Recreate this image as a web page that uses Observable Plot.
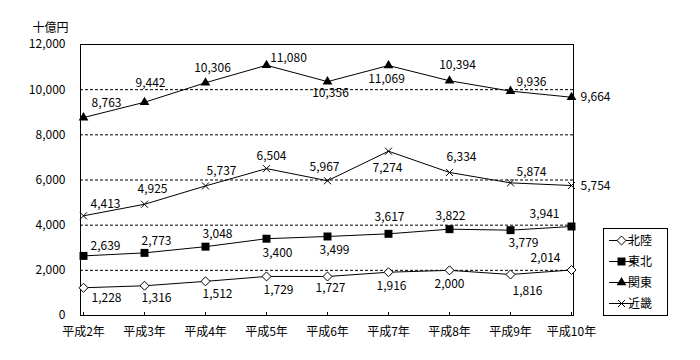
<!DOCTYPE html>
<html><head><meta charset="utf-8">
<script src="https://cdn.jsdelivr.net/npm/d3@7"></script>
<script src="https://cdn.jsdelivr.net/npm/@observablehq/plot@0.6"></script>
<style>
body{margin:0;background:#fff;}
#chart{position:relative;width:700px;height:360px;}
</style></head><body><div id="chart"></div>
<script>
// ---- data ----
const years = ["平成2年","平成3年","平成4年","平成5年","平成6年","平成7年","平成8年","平成9年","平成10年"];
const hokuriku = [1228, 1316, 1512, 1729, 1727, 1916, 2000, 1816, 2014];
const tohoku   = [2639, 2773, 3048, 3400, 3499, 3617, 3822, 3779, 3941];
const kanto    = [8763, 9442, 10306, 11080, 10356, 11069, 10394, 9936, 9664];
const kinki    = [4413, 4925, 5737, 6504, 5967, 7274, 6334, 5874, 5754];
const seriesNames = ["北陸", "東北", "関東", "近畿"];
const yTicks = [0, 2000, 4000, 6000, 8000, 10000, 12000];
const unitLabel = "十億円";

// ---- label placement (pixel offsets of each value label from its point) ----
const labelOffsets = {
  "北陸": [[23,10],[12,12],[12,13],[12,14],[3,12],[3,14],[0,14],[17,17],[-26,-12]],
  "東北": [[22,-10],[12,-12],[12,-13],[11,14],[7,14],[1,-17],[1,-13],[13,13],[-27,-12]],
  "関東": [[23,-14],[6,-19],[7,-15],[22,-7],[3,12],[-2,14],[8,-16],[21,-9],[24,0]],
  "近畿": [[22,-12],[8,-15],[16,-15],[5,-12],[-3,-14],[-1,17],[12,-15],[21,-11],[24,1]]
};

const valuesBySeries = {"北陸": hokuriku, "東北": tohoku, "関東": kanto, "近畿": kinki};
const rows = seriesNames.flatMap(s => valuesBySeries[s].map((v, i) => ({series: s, year: years[i], value: v, i})));

const diamond = {draw(ctx, size) { const r = Math.sqrt(size / 2); ctx.moveTo(0, -r); ctx.lineTo(r, 0); ctx.lineTo(0, r); ctx.lineTo(-r, 0); ctx.closePath(); }};
const symStyle = {
  "北陸": {symbol: diamond, r: 3.6, fill: "white", stroke: "black", strokeWidth: 1},
  "東北": {symbol: "square", r: 4.5, fill: "black", stroke: "none"},
  "関東": {symbol: "triangle", r: 3.6, fill: "black", stroke: "none"},
  "近畿": {symbol: "times", r: 3.3, fill: "none", stroke: "black", strokeWidth: 1}
};

const fmt = d3.format(",");
const marks = [];
marks.push(Plot.ruleY(yTicks.filter(t => t > 0 && t < 12000), {stroke: "black", strokeDasharray: "3,2"}));
marks.push(Plot.frame({stroke: "black"}));
marks.push(Plot.axisY({ticks: yTicks, tickFormat: fmt, tickSize: 0, tickPadding: 15, label: null}));
marks.push(Plot.axisX({tickSize: -3, tickPadding: 15, label: null}));
for (const s of seriesNames) {
  const d = rows.filter(r => r.series === s);
  marks.push(Plot.line(d, {x: "year", y: "value", stroke: "black", strokeWidth: 1}));
}
for (const s of seriesNames) {
  const d = rows.filter(r => r.series === s);
  marks.push(Plot.dot(d, {x: "year", y: "value", ...symStyle[s]}));
}
for (const r of rows) {
  const [dx, dy] = labelOffsets[r.series][r.i];
  marks.push(Plot.text([r], {x: "year", y: "value", text: d => fmt(d.value), dx, dy, fill: "black", textAnchor: "middle"}));
}
marks.push(Plot.text([unitLabel], {frameAnchor: "top-left", dx: -30, dy: -21, textAnchor: "middle", fill: "black"}));

const chart = Plot.plot({
  width: 700, height: 360,
  marginLeft: 80, marginRight: 127, marginTop: 44, marginBottom: 45,
  style: {fontFamily: '"Noto Sans CJK JP", sans-serif', fontSize: "12px", background: "white", color: "black"},
  x: {type: "point", domain: years, padding: 0, axis: null},
  y: {domain: [0, 12000], axis: null},
  marks
});

// legend
const svg = d3.select(chart);
const lg = svg.append("g").attr("font-family", '"Noto Sans CJK JP", sans-serif').attr("font-size", 12);
lg.append("rect").attr("x", 603.5).attr("y", 228.5).attr("width", 64).attr("height", 87).attr("fill", "white").attr("stroke", "black");
const legendSym = {
  "北陸": {path: (() => { const p = d3.path(); diamond.draw(p, Math.PI * 3.6 * 3.6); return p.toString(); })(), fill: "white", stroke: "black"},
  "東北": {path: d3.symbol(d3.symbolSquare, Math.PI * 4.5 * 4.5)(), fill: "black", stroke: "none"},
  "関東": {path: d3.symbol(d3.symbolTriangle, Math.PI * 3.6 * 3.6)(), fill: "black", stroke: "none"},
  "近畿": {path: d3.symbol(d3.symbolTimes, Math.PI * 3.3 * 3.3)(), fill: "none", stroke: "black"}
};
seriesNames.forEach((s, k) => {
  const y = 240.5 + k * 21;
  const g = lg.append("g");
  g.append("line").attr("x1", 609).attr("x2", 634).attr("y1", y).attr("y2", y).attr("stroke", "black");
  g.append("path").attr("d", legendSym[s].path).attr("transform", `translate(621.5,${y})`).attr("fill", legendSym[s].fill).attr("stroke", legendSym[s].stroke);
  g.append("text").attr("x", 640).attr("y", y).attr("dy", "0.35em").attr("fill", "black").text(s);
});

document.getElementById("chart").appendChild(chart);
</script></body></html>
